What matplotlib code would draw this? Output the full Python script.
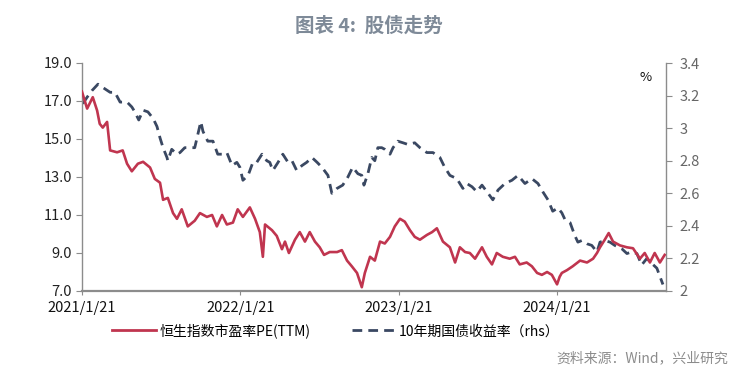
import matplotlib
matplotlib.use("Agg")
import matplotlib.pyplot as plt
import matplotlib.dates as mdates
from matplotlib.ticker import FuncFormatter
import pandas as pd

plt.rcParams['font.family'] = ['Noto Sans CJK SC', 'DejaVu Sans']

# 恒生指数市盈率PE(TTM), left axis
pe_dates = [
    '2021-01-21', '2021-02-02', '2021-02-15', '2021-02-25', '2021-03-03', '2021-03-10',
    '2021-03-20', '2021-03-27', '2021-04-12', '2021-04-25', '2021-05-05', '2021-05-16',
    '2021-05-30', '2021-06-11', '2021-06-27', '2021-07-08', '2021-07-20', '2021-07-27',
    '2021-08-07', '2021-08-19', '2021-08-28', '2021-09-08', '2021-09-22', '2021-10-08',
    '2021-10-20', '2021-11-05', '2021-11-17', '2021-11-28', '2021-12-10', '2021-12-21',
    '2022-01-04', '2022-01-15', '2022-01-27', '2022-02-12', '2022-02-24', '2022-03-07',
    '2022-03-14', '2022-03-19', '2022-04-04', '2022-04-15', '2022-04-27', '2022-05-04',
    '2022-05-13', '2022-05-27', '2022-06-07', '2022-06-19', '2022-06-30', '2022-07-12',
    '2022-07-23', '2022-08-02', '2022-08-15', '2022-09-01', '2022-09-12', '2022-09-24',
    '2022-10-05', '2022-10-17', '2022-10-28', '2022-11-04', '2022-11-16', '2022-11-27',
    '2022-12-09', '2022-12-20', '2023-01-01', '2023-01-12', '2023-01-24', '2023-02-04',
    '2023-02-16', '2023-02-27', '2023-03-11', '2023-03-27', '2023-04-08', '2023-04-19',
    '2023-05-03', '2023-05-19', '2023-05-31', '2023-06-11', '2023-06-23', '2023-07-04',
    '2023-07-16', '2023-08-01', '2023-08-12', '2023-08-24', '2023-09-04', '2023-09-18',
    '2023-10-04', '2023-10-16', '2023-10-27', '2023-11-12', '2023-11-24', '2023-12-06',
    '2023-12-17', '2023-12-29', '2024-01-09', '2024-01-21', '2024-01-27', '2024-02-01',
    '2024-02-13', '2024-02-26', '2024-03-14', '2024-03-30', '2024-04-13', '2024-04-22',
    '2024-04-29', '2024-05-10', '2024-05-19', '2024-05-29', '2024-06-14', '2024-06-30',
    '2024-07-14', '2024-07-30', '2024-08-10', '2024-08-22', '2024-09-02', '2024-09-14',
    '2024-09-25',
]
pe_values = [
    17.5, 16.6, 17.2, 16.5, 15.8, 15.6,
    15.9, 14.4, 14.3, 14.4, 13.7, 13.3,
    13.7, 13.8, 13.5, 12.9, 12.7, 11.8,
    11.9, 11.1, 10.8, 11.3, 10.4, 10.7,
    11.1, 10.9, 11.0, 10.4, 11.0, 10.5,
    10.6, 11.3, 10.9, 11.4, 10.8, 10.1,
    8.8, 10.5, 10.2, 9.9, 9.2, 9.6,
    9.0, 9.7, 10.1, 9.6, 10.1, 9.6,
    9.3, 8.9, 9.05, 9.05, 9.15, 8.6,
    8.3, 7.95, 7.2, 7.95, 8.8, 8.6,
    9.6, 9.5, 9.85, 10.4, 10.8, 10.65,
    10.2, 9.85, 9.7, 9.95, 10.1, 10.3,
    9.6, 9.3, 8.5, 9.3, 9.05, 9.0,
    8.7, 9.3, 8.8, 8.4, 9.0, 8.8,
    8.7, 8.8, 8.4, 8.5, 8.3, 7.95,
    7.85, 8.0, 7.85, 7.35, 7.75, 7.95,
    8.1, 8.3, 8.6, 8.5, 8.7, 9.0,
    9.3, 9.7, 10.05, 9.6, 9.4, 9.3,
    9.25, 8.7, 9.0, 8.5, 9.0, 8.5,
    8.9,
]

# 10年期国债收益率, right axis (%)
yld_dates = [
    '2021-01-23', '2021-02-02', '2021-02-13', '2021-02-27', '2021-03-10', '2021-03-27',
    '2021-04-07', '2021-04-19', '2021-05-05', '2021-05-16', '2021-05-23', '2021-06-01',
    '2021-06-11', '2021-06-22', '2021-07-04', '2021-07-13', '2021-07-20', '2021-07-27',
    '2021-08-05', '2021-08-07', '2021-08-16', '2021-08-28', '2021-09-04', '2021-09-15',
    '2021-09-27', '2021-10-08', '2021-10-15', '2021-10-22', '2021-10-27', '2021-11-07',
    '2021-11-19', '2021-11-30', '2021-12-12', '2021-12-21', '2022-01-02', '2022-01-13',
    '2022-01-20', '2022-01-27', '2022-02-08', '2022-02-19', '2022-02-28', '2022-03-12',
    '2022-03-23', '2022-03-30', '2022-04-06', '2022-04-18', '2022-04-29', '2022-05-11',
    '2022-05-20', '2022-05-31', '2022-06-12', '2022-06-23', '2022-07-05', '2022-07-17',
    '2022-07-28', '2022-08-11', '2022-08-20', '2022-09-01', '2022-09-14', '2022-09-26',
    '2022-10-07', '2022-10-19', '2022-10-28', '2022-11-02', '2022-11-11', '2022-11-20',
    '2022-11-27', '2022-12-04', '2022-12-13', '2022-12-20', '2023-01-01', '2023-01-08',
    '2023-01-19', '2023-01-31', '2023-02-11', '2023-02-27', '2023-03-11', '2023-03-27',
    '2023-04-10', '2023-04-26', '2023-05-07', '2023-05-19', '2023-06-04', '2023-06-18',
    '2023-06-27', '2023-07-09', '2023-07-20', '2023-08-01', '2023-08-15', '2023-08-26',
    '2023-09-07', '2023-09-23', '2023-10-09', '2023-10-23', '2023-11-08', '2023-11-24',
    '2023-12-08', '2023-12-19', '2023-12-31', '2024-01-11', '2024-01-23', '2024-02-01',
    '2024-02-08', '2024-02-20', '2024-03-02', '2024-03-09', '2024-03-18', '2024-03-30',
    '2024-04-10', '2024-04-22', '2024-04-29', '2024-05-10', '2024-05-22', '2024-06-02',
    '2024-06-18', '2024-06-30', '2024-07-11', '2024-07-23', '2024-08-03', '2024-08-15',
    '2024-08-26', '2024-09-07', '2024-09-14', '2024-09-21',
]
yld_values = [
    3.15, 3.19, 3.23, 3.27, 3.25, 3.22,
    3.22, 3.16, 3.16, 3.13, 3.10, 3.05,
    3.11, 3.10, 3.06, 3.01, 2.94, 2.88,
    2.82, 2.80, 2.87, 2.84, 2.85, 2.88,
    2.88, 2.88, 2.96, 3.04, 2.98, 2.92,
    2.92, 2.84, 2.84, 2.85, 2.77, 2.79,
    2.76, 2.68, 2.71, 2.79, 2.79, 2.84,
    2.80, 2.79, 2.74, 2.79, 2.84, 2.79,
    2.80, 2.74, 2.77, 2.79, 2.82, 2.79,
    2.76, 2.71, 2.60, 2.63, 2.65, 2.70,
    2.76, 2.72, 2.71, 2.65, 2.72, 2.82,
    2.80, 2.88, 2.88, 2.87, 2.84, 2.88,
    2.92, 2.91, 2.90, 2.91, 2.88, 2.85,
    2.85, 2.82, 2.76, 2.71, 2.69, 2.63,
    2.66, 2.64, 2.61, 2.65, 2.60, 2.56,
    2.62, 2.66, 2.68, 2.71, 2.66, 2.69,
    2.66, 2.61, 2.56, 2.49, 2.51, 2.48,
    2.44, 2.42, 2.34, 2.30, 2.31, 2.29,
    2.28, 2.24, 2.30, 2.31, 2.30, 2.28,
    2.26, 2.23, 2.24, 2.23, 2.16, 2.20,
    2.17, 2.14, 2.09, 2.04,
]

tick_dates = ['2021-01-21', '2022-01-21', '2023-01-21', '2024-01-21']
tick_labels = ['2021/1/21', '2022/1/21', '2023/1/21', '2024/1/21']

pe = pd.Series(pe_values, index=pd.to_datetime(pe_dates))
yld = pd.Series(yld_values, index=pd.to_datetime(yld_dates))

red = '#c0354f'
navy = '#3a4862'
spine_gray = '#8c8c8c'

fig = plt.figure(figsize=(7.38, 3.75), dpi=100)
ax = fig.add_axes([0.111, 0.224, 0.7914, 0.608])
ax2 = ax.twinx()

ax.plot(pe.index, pe.values, color=red, lw=1.9, zorder=3)
ax2.plot(yld.index, yld.values, color=navy, lw=2.0, dashes=(3.5, 2.2))
ax.set_zorder(ax2.get_zorder() + 1)
ax.patch.set_visible(False)

ax.set_ylim(7, 19)
ax.set_yticks([7, 9, 11, 13, 15, 17, 19])
ax.yaxis.set_major_formatter(FuncFormatter(lambda v, p: '%.1f' % v))
ax2.set_ylim(2, 3.4)
ax2.set_yticks([2, 2.2, 2.4, 2.6, 2.8, 3.0, 3.2, 3.4])
ax2.yaxis.set_major_formatter(FuncFormatter(lambda v, p: '%g' % round(v, 1)))

ax.set_xlim(pd.Timestamp('2021-01-21'), pd.Timestamp('2024-09-28'))
ax.set_xticks(pd.to_datetime(tick_dates))
ax.set_xticklabels(tick_labels)

for a in (ax, ax2):
    a.spines['top'].set_visible(False)
    for s in ('left', 'right', 'bottom'):
        a.spines[s].set_color(spine_gray)
        a.spines[s].set_linewidth(1.0)
ax.spines['bottom'].set_linewidth(1.6)
ax.spines['right'].set_visible(False)
ax2.spines['left'].set_visible(False)
ax2.spines['bottom'].set_visible(False)

ax.tick_params(axis='y', direction='out', length=4, color=spine_gray, labelsize=10.5,
               labelcolor='#222222', pad=3)
ax.tick_params(axis='x', direction='out', length=3, color=spine_gray, labelsize=10.5,
               labelcolor='#111111', pad=4)
ax2.tick_params(axis='y', direction='out', length=4, color=spine_gray, labelsize=10.5,
                labelcolor='#666666', pad=6)

ax2.text(0.975, 0.965, '%', transform=ax2.transAxes, ha='right', va='top',
         fontsize=9.5, color='#111111')

fig.text(0.5, 0.93, '图表 4:  股债走势', ha='center', va='center',
         fontsize=14, fontweight='bold', color='#7e8a98')

l1, = ax.plot([], [], color=red, lw=2.0)
l2, = ax.plot([], [], color=navy, lw=2.0, dashes=(3.5, 2.2))
fig.legend([l1, l2], ['恒生指数市盈率PE(TTM)', '10年期国债收益率（rhs）'],
           loc='center', bbox_to_anchor=(0.455, 0.118), ncol=2, frameon=False,
           fontsize=10, handlelength=3.2, handletextpad=0.2, columnspacing=3.0)

fig.text(0.987, 0.045, '资料来源：Wind，兴业研究', ha='right', va='center',
         fontsize=10, color='#8c8c8c')

fig.savefig('out.png', dpi=100)
